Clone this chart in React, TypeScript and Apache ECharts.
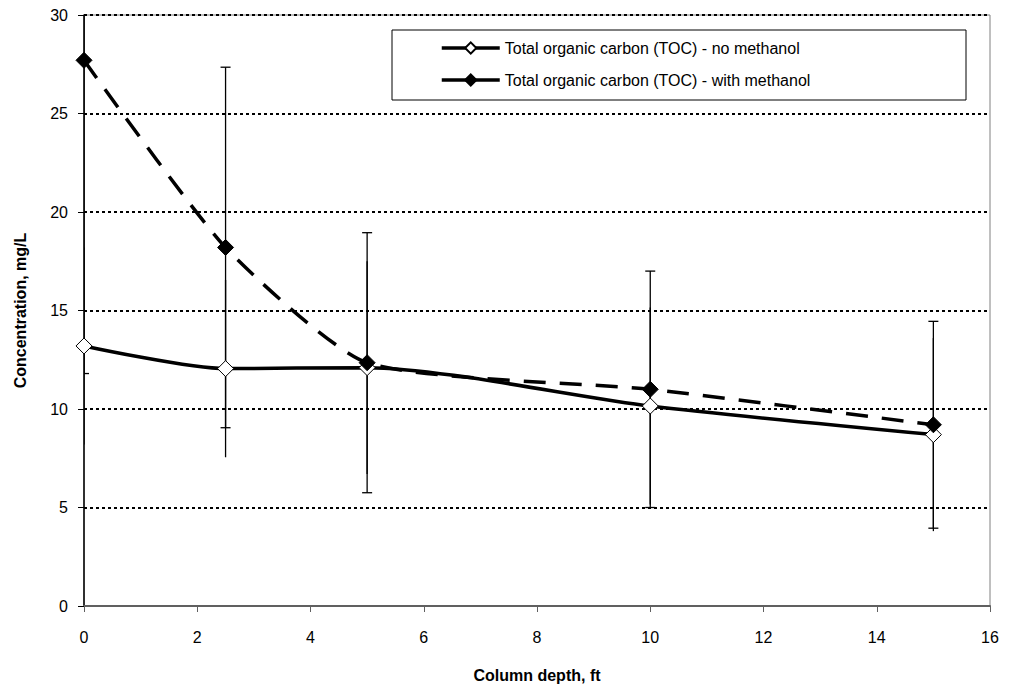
import React, { useEffect, useRef } from "react";
import * as echarts from "echarts";

const depths = [0, 2.5, 5, 10, 15];
const tocNoMethanol = [13.2, 12.05, 12.1, 10.15, 8.7];
const tocWithMethanol = [27.7, 18.2, 12.35, 11.0, 9.2];
const errNoMethanol = [5.0, 4.5, 5.4, 5.0, 4.9];
const errWithMethanol = [15.9, 9.15, 6.6, 6.0, 5.25];
const nameNo = "Total organic carbon (TOC) - no methanol";
const nameWith = "Total organic carbon (TOC) - with methanol";

const FONT = "'Liberation Sans', Arial, sans-serif";

function errorSeries(vals: number[], errs: number[], caps: boolean, z: number) {
  const data = depths.map((d, i) => [d, vals[i] - errs[i], vals[i] + errs[i]]);
  return {
    type: "custom",
    silent: true,
    z,
    clip: true,
    renderItem: (params: any, api: any) => {
      const x = api.value(0);
      const lo = api.coord([x, api.value(1)]);
      const hi = api.coord([x, api.value(2)]);
      const cw = 5;
      const st = { stroke: "#000", lineWidth: 1.3 };
      const children: any[] = [
        { type: "line", shape: { x1: lo[0], y1: lo[1], x2: hi[0], y2: hi[1] }, style: st },
      ];
      if (caps) {
        children.push({ type: "line", shape: { x1: lo[0] - cw, y1: lo[1], x2: lo[0] + cw, y2: lo[1] }, style: st });
        children.push({ type: "line", shape: { x1: hi[0] - cw, y1: hi[1], x2: hi[0] + cw, y2: hi[1] }, style: st });
      }
      return { type: "group", children };
    },
    data,
  };
}

export default function App() {
  const ref = useRef<HTMLDivElement>(null);
  useEffect(() => {
    if (!ref.current) return;
    const chart = echarts.init(ref.current, null, { renderer: "svg" });
    chart.setOption({
      animation: false,
      backgroundColor: "#fff",
      grid: { left: 84, right: 23, top: 15, bottom: 87, show: true, borderColor: "#808080", borderWidth: 1 },
      legend: {
        orient: "vertical",
        left: 440,
        top: 38,
        itemWidth: 58,
        itemHeight: 14,
        itemGap: 12,
        padding: 0,
        lineStyle: { width: 3.5, type: "solid" },
        textStyle: { fontFamily: FONT, fontSize: 16, color: "#000", lineHeight: 20 },
        data: [nameNo, nameWith],
      },
      graphic: [
        {
          type: "rect",
          shape: { x: 392, y: 30, width: 574, height: 70 },
          style: { fill: "#fff", stroke: "#000", lineWidth: 1 },
          z: 0,
          silent: true,
        },
      ],
      xAxis: {
        type: "value",
        min: 0,
        max: 16,
        interval: 2,
        name: "Column depth, ft",
        nameLocation: "middle",
        nameGap: 61,
        nameTextStyle: { fontFamily: FONT, fontSize: 16, fontWeight: "bold", color: "#000" },
        axisLine: { show: true, onZero: false, lineStyle: { color: "#606060", width: 2 } },
        axisTick: { show: true, length: 6, lineStyle: { color: "#606060" } },
        axisLabel: { fontFamily: FONT, fontSize: 16, color: "#000", margin: 23 },
        splitLine: { show: false },
      },
      yAxis: {
        type: "value",
        min: 0,
        max: 30,
        interval: 5,
        name: "Concentration, mg/L",
        nameLocation: "middle",
        nameGap: 56,
        nameTextStyle: { fontFamily: FONT, fontSize: 16, fontWeight: "bold", color: "#000" },
        axisLine: { show: true, lineStyle: { color: "#000", width: 1.5 } },
        axisTick: { show: true, length: 6, lineStyle: { color: "#000" } },
        axisLabel: { fontFamily: FONT, fontSize: 16, color: "#000", margin: 16 },
        splitLine: { show: true, lineStyle: { color: "#000", type: [3, 3], width: 2 } },
      },
      series: [
        errorSeries(tocNoMethanol, errNoMethanol, false, 1),
        errorSeries(tocWithMethanol, errWithMethanol, true, 1),
        {
          name: nameNo,
          type: "line",
          z: 3,
          smooth: 0.25,
          data: depths.map((d, i) => [d, tocNoMethanol[i]]),
          lineStyle: { color: "#000", width: 3.5 },
          symbol: "diamond",
          symbolSize: 16,
          itemStyle: { color: "#fff", borderColor: "#000", borderWidth: 1 },
        },
        {
          name: nameWith,
          type: "line",
          z: 4,
          smooth: 0.2,
          data: depths.map((d, i) => [d, tocWithMethanol[i]]),
          lineStyle: { color: "#000", width: 3.5, type: [22, 14] },
          symbol: "diamond",
          symbolSize: 16,
          itemStyle: { color: "#000", borderColor: "#000", borderWidth: 1 },
        },
      ],
    });
    return () => chart.dispose();
  }, []);
  return <div ref={ref} style={{ width: 1013, height: 693, position: "absolute", left: 0, top: 0 }} />;
}
